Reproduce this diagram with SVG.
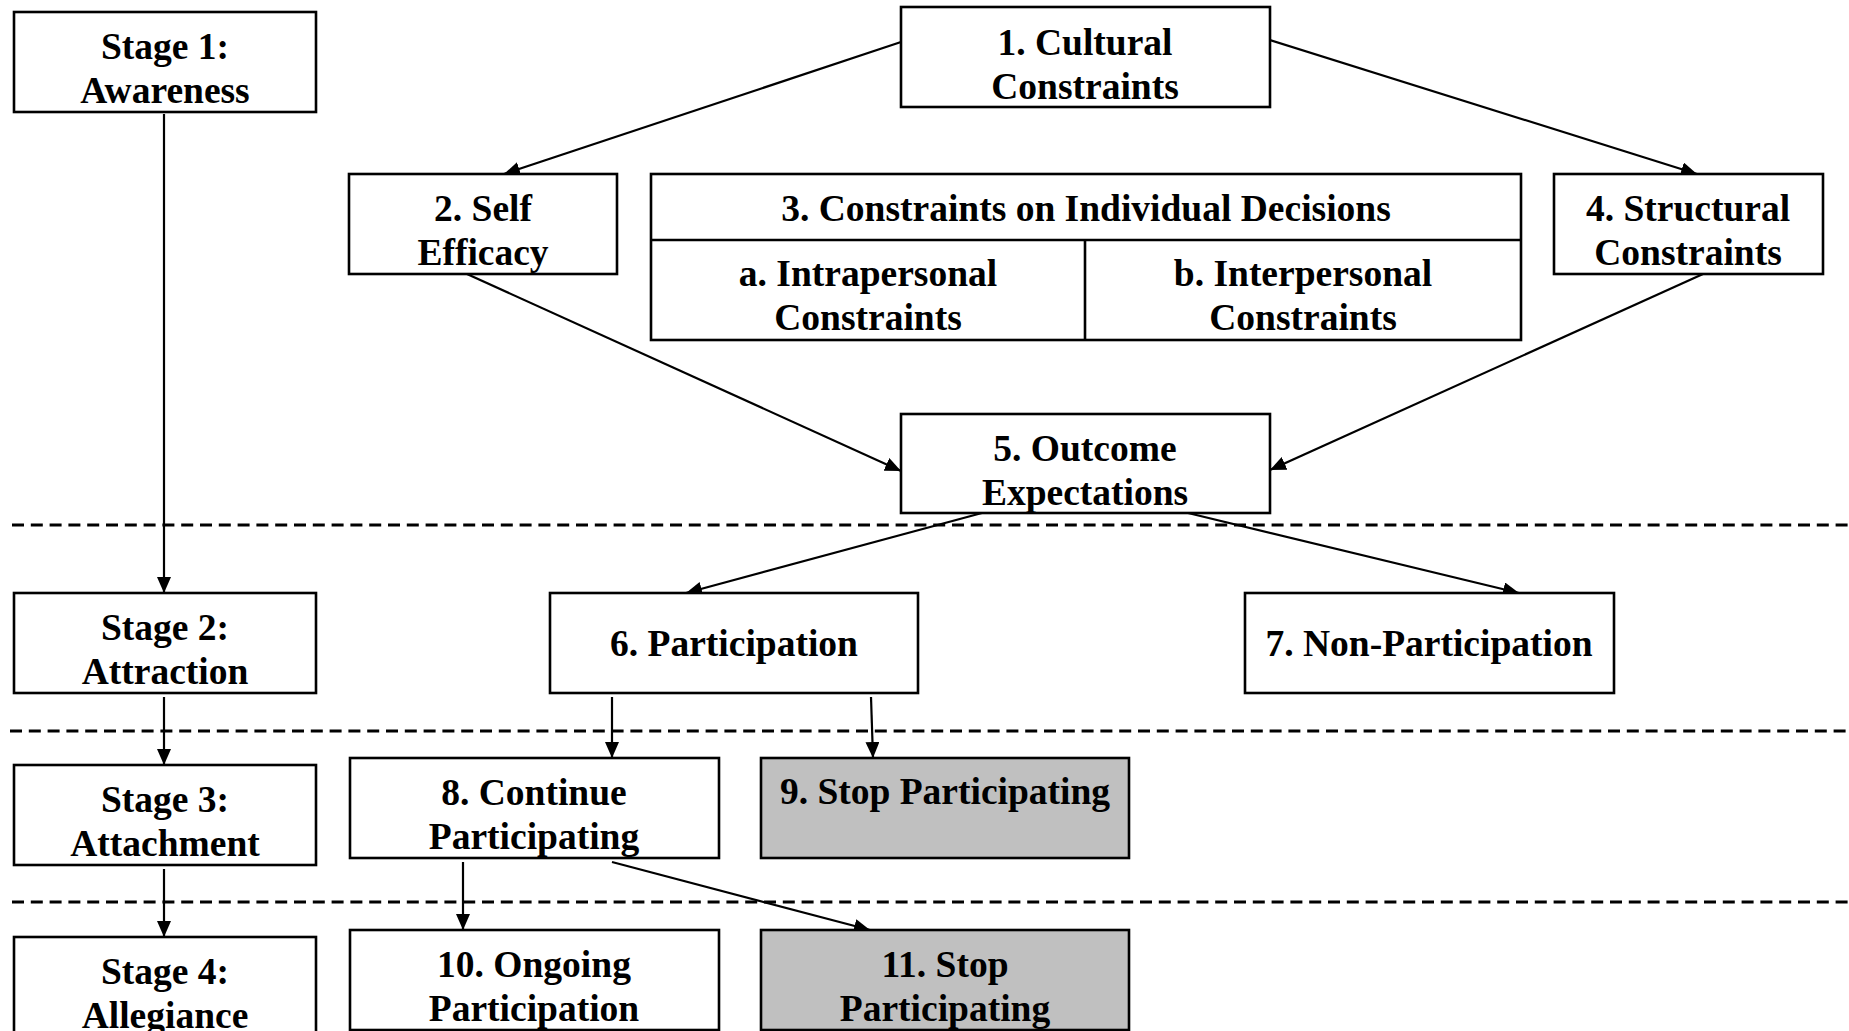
<svg xmlns="http://www.w3.org/2000/svg" width="1849" height="1031" viewBox="0 0 1849 1031">
<style>
.box{fill:#fff;stroke:#000;stroke-width:2.6}
.gray{fill:#c0c0c0;stroke:#000;stroke-width:2.6}
.t{font-family:"Liberation Serif","Times New Roman",serif;font-weight:bold;font-size:37.5px;text-anchor:middle;fill:#000}
.c{stroke:#000;stroke-width:2.2;fill:none;marker-end:url(#ah)}
.d{stroke:#000;stroke-width:3;stroke-dasharray:12 6.8;fill:none}
</style>
<defs>
<marker id="ah" markerUnits="userSpaceOnUse" markerWidth="16" markerHeight="14" viewBox="0 0 16 14" refX="16" refY="7" orient="auto">
<path d="M0,0 L16,7 L0,14 z" fill="#000"/>
</marker>
</defs>
<rect width="1849" height="1031" fill="#fff"/>
<g id="separators">
<line class="d" x1="12" y1="525" x2="1849" y2="525"/>
<line class="d" x1="10" y1="731" x2="1849" y2="731"/>
<line class="d" x1="12" y1="902" x2="1849" y2="902"/>
</g>
<g id="connectors">
<line class="c" x1="901" y1="42" x2="504" y2="174"/>
<line class="c" x1="1270" y1="40" x2="1697" y2="174"/>
<line class="c" x1="467" y1="274" x2="901" y2="471"/>
<line class="c" x1="1703" y1="274" x2="1270" y2="470"/>
<line class="c" x1="982" y1="513" x2="686" y2="593"/>
<line class="c" x1="1188" y1="513" x2="1519" y2="593"/>
<line class="c" x1="164" y1="114" x2="164" y2="593"/>
<line class="c" x1="164" y1="697" x2="164" y2="765"/>
<line class="c" x1="164" y1="869" x2="164" y2="937"/>
<line class="c" x1="612" y1="697" x2="612" y2="758"/>
<line class="c" x1="871" y1="697" x2="873" y2="758"/>
<line class="c" x1="463" y1="862" x2="463" y2="930"/>
<line class="c" x1="612" y1="862" x2="870" y2="930"/>
</g>
<g id="stage1"><rect class="box" x="14" y="12" width="302" height="100"/><text class="t" x="165" y="59">Stage 1:</text><text class="t" x="165" y="103">Awareness</text></g>
<g id="stage2"><rect class="box" x="14" y="593" width="302" height="100"/><text class="t" x="165" y="640">Stage 2:</text><text class="t" x="165" y="684">Attraction</text></g>
<g id="stage3"><rect class="box" x="14" y="765" width="302" height="100"/><text class="t" x="165" y="812">Stage 3:</text><text class="t" x="165" y="856">Attachment</text></g>
<g id="stage4"><rect class="box" x="14" y="937" width="302" height="100"/><text class="t" x="165" y="984">Stage 4:</text><text class="t" x="165" y="1028">Allegiance</text></g>
<g id="n1"><rect class="box" x="901" y="7" width="369" height="100"/><text class="t" x="1085" y="55">1. Cultural</text><text class="t" x="1085" y="99">Constraints</text></g>
<g id="n2"><rect class="box" x="349" y="174" width="268" height="100"/><text class="t" x="483" y="221">2. Self</text><text class="t" x="483" y="265">Efficacy</text></g>
<g id="n3"><rect class="box" x="651" y="174" width="870" height="166"/><line x1="651" y1="240" x2="1521" y2="240" stroke="#000" stroke-width="2.6"/><line x1="1085" y1="240" x2="1085" y2="340" stroke="#000" stroke-width="2.6"/><text class="t" x="1086" y="221">3. Constraints on Individual Decisions</text><text class="t" x="868" y="286">a. Intrapersonal</text><text class="t" x="868" y="330">Constraints</text><text class="t" x="1303" y="286">b. Interpersonal</text><text class="t" x="1303" y="330">Constraints</text></g>
<g id="n4"><rect class="box" x="1554" y="174" width="269" height="100"/><text class="t" x="1688" y="221">4. Structural</text><text class="t" x="1688" y="265">Constraints</text></g>
<g id="n5"><rect class="box" x="901" y="414" width="369" height="99"/><text class="t" x="1085" y="461">5. Outcome</text><text class="t" x="1085" y="505">Expectations</text></g>
<g id="n6"><rect class="box" x="550" y="593" width="368" height="100"/><text class="t" x="734" y="656">6. Participation</text></g>
<g id="n7"><rect class="box" x="1245" y="593" width="369" height="100"/><text class="t" x="1429" y="656">7. Non-Participation</text></g>
<g id="n8"><rect class="box" x="350" y="758" width="369" height="100"/><text class="t" x="534" y="805">8. Continue</text><text class="t" x="534" y="849">Participating</text></g>
<g id="n9"><rect class="gray" x="761" y="758" width="368" height="100"/><text class="t" x="945" y="804">9. Stop Participating</text></g>
<g id="n10"><rect class="box" x="350" y="930" width="369" height="100"/><text class="t" x="534" y="977">10. Ongoing</text><text class="t" x="534" y="1021">Participation</text></g>
<g id="n11"><rect class="gray" x="761" y="930" width="368" height="100"/><text class="t" x="945" y="977">11. Stop</text><text class="t" x="945" y="1021">Participating</text></g>
</svg>
